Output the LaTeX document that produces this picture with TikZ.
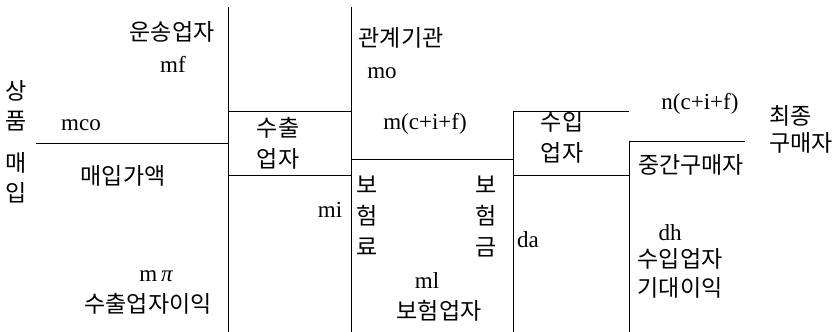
\documentclass[tikz,border=0pt]{standalone}
\usepackage{fontspec}
\setmainfont{Liberation Serif}
\newfontfamily\kr{Noto Sans CJK KR}
\tikzset{
  kor/.style={font=\kr\fontsize{23}{26}\selectfont, inner sep=0pt},
  lat/.style={font=\fontsize{23}{26}\selectfont, inner sep=0pt, anchor=base},
  ln/.style={line width=0.9pt, black}
}
\begin{document}
\begin{tikzpicture}[x=1pt,y=-1pt]
\useasboundingbox (0,0) rectangle (839,332);
% coordinates
\coordinate (v1t) at (228,7);   \coordinate (v1b) at (228,332);
\coordinate (h1l) at (36,143);  \coordinate (h1r) at (228,143);
\coordinate (b1tl) at (228,111); \coordinate (b1tr) at (351,111);
\coordinate (b1bl) at (228,175); \coordinate (b1br) at (351,175);
\coordinate (v2t) at (351,7);   \coordinate (v2b) at (351,332);
\coordinate (hml) at (351,159); \coordinate (hmr) at (513,159);
\coordinate (v3t) at (513,111); \coordinate (v3b) at (513,332);
\coordinate (b2tr) at (629,111);
\coordinate (b2bl) at (513,175); \coordinate (b2br) at (629,175);
\coordinate (v4t) at (629,141); \coordinate (v4b) at (629,332);
\coordinate (h4r) at (745,141);
% lines
\draw[ln] (v1t) -- (v1b);
\draw[ln] (h1l) -- (h1r);
\draw[ln] (b1tl) -- (b1tr);
\draw[ln] (b1bl) -- (b1br);
\draw[ln] (v2t) -- (v2b);
\draw[ln] (hml) -- (hmr);
\draw[ln] (v3t) -- (v3b);
\draw[ln] (v3t) -- (b2tr);
\draw[ln] (b2bl) -- (b2br);
\draw[ln] (v4t) -- (v4b);
\draw[ln] (v4t) -- (h4r);
% Korean texts
\node[kor] (t1) at (172,32) {운송업자};
\node[kor] (s1) at (16,91) {상};
\node[kor] (s2) at (16,121) {품};
\node[kor] (s3) at (16,163) {매};
\node[kor] (s4) at (16,193) {입};
\node[kor] (t2) at (123,176) {매입가액};
\node[kor] (t3) at (148,304) {수출업자이익};
\node[kor] (t4) at (278,128) {수출};
\node[kor] (t5) at (278,159) {업자};
\node[kor] (t6) at (401,38) {관계기관};
\node[kor] (l1) at (367,185) {보};
\node[kor] (l2) at (367,216) {험};
\node[kor] (l3) at (367,247) {료};
\node[kor] (r1) at (486,185) {보};
\node[kor] (r2) at (486,216) {험};
\node[kor] (r3) at (486,247) {금};
\node[kor] (t7) at (439,311) {보험업자};
\node[kor] (t8) at (562,122) {수입};
\node[kor] (t9) at (562,153) {업자};
\node[kor,anchor=west] (t10) at (769,116) {최종};
\node[kor,anchor=west] (t11) at (769,143) {구매자};
\node[kor] (t12) at (691,165) {중간구매자};
\node[kor] (t13) at (680,259) {수입업자};
\node[kor] (t14) at (680,288) {기대이익};
% Latin texts
\node[lat] (mf) at (173,72) {mf};
\node[lat] (mco) at (81,130) {mco};
\node[lat] (mpi) at (156,281) {m\,{\itshape π}};
\node[lat] (mo) at (382,78) {mo};
\node[lat] (mcif) at (425,129) {m(c+i+f)};
\node[lat] (mi) at (330,217) {mi};
\node[lat] (ml) at (427,288) {ml};
\node[lat] (da) at (528,247) {da};
\node[lat] (ncif) at (700,109) {n(c+i+f)};
\node[lat] (dh) at (670,240) {dh};
\end{tikzpicture}
\end{document}
